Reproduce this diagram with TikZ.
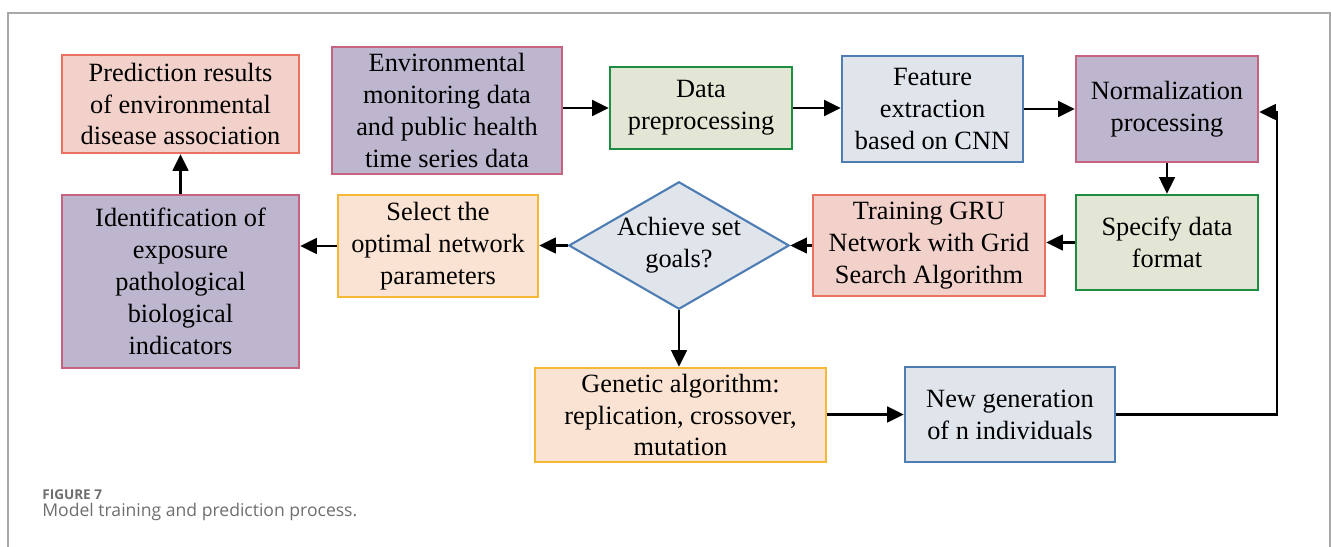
\documentclass[tikz,border=0pt]{standalone}
\usepackage{fontspec}
\setmainfont{Liberation Serif}
\newfontfamily\captionfont{Open Sans}
\usetikzlibrary{shapes.geometric,arrows.meta}

\definecolor{redfill}{HTML}{F2D1CB}
\definecolor{redline}{HTML}{EB7260}
\definecolor{purplefill}{HTML}{BEB6CE}
\definecolor{purpleline}{HTML}{C6637F}
\definecolor{greenfill}{HTML}{E3E6D5}
\definecolor{greenline}{HTML}{1B8E42}
\definecolor{bluefill}{HTML}{E0E5EC}
\definecolor{blueline}{HTML}{4E7DB4}
\definecolor{yellowfill}{HTML}{FAE3D2}
\definecolor{yellowline}{HTML}{F6B935}
\definecolor{framegray}{HTML}{A8A8A8}
\definecolor{captiongray}{HTML}{6E6E6E}

\begin{document}
\begin{tikzpicture}[x=0.02cm,y=-0.02cm,
		box/.style={rectangle,draw,line width=1.4pt,align=center,inner sep=2pt,
			font=\fontsize{15}{18.2}\selectfont},
		redbox/.style={box,fill=redfill,draw=redline},
		purplebox/.style={box,fill=purplefill,draw=purpleline},
		greenbox/.style={box,fill=greenfill,draw=greenline},
		bluebox/.style={box,fill=bluefill,draw=blueline},
		yellowbox/.style={box,fill=yellowfill,draw=yellowline},
		arr/.style={-{Triangle[length=9.5pt,width=9pt]},line width=1.2pt}]
		\useasboundingbox (0,0) rectangle (1331,547);
		
		% Add outer frame
		\draw [framegray,line width=0.6pt] (8,547) -- (8,13) -- (1330,13) -- (1330,547);
		
		% Top row
		\node [redbox,minimum width=4.74cm,minimum height=1.96cm] (pred) at (180.5,104) {Prediction results\\of environmental\\disease association};
		\node [purplebox,minimum width=4.6cm,minimum height=2.54cm] (env) at (447,110.5) {Environmental\\monitoring data\\and public health\\time series data};
		\node [greenbox,minimum width=3.64cm,minimum height=1.64cm] (pre) at (701,108) {Data\\preprocessing};
		\node [bluebox,minimum width=3.62cm,minimum height=2.12cm] (feat) at (932.5,109) {Feature\\extraction\\based on CNN};
		\node [purplebox,minimum width=3.64cm,minimum height=2.12cm] (norm) at (1167,109) {Normalization\\processing};
		
		% Middle row
		\node [purplebox,minimum width=4.74cm,minimum height=3.46cm] (ident) at (180.5,281.5) {Identification of\\exposure\\pathological\\biological\\indicators};
		\node [yellowbox,minimum width=4.0cm,minimum height=2.04cm] (sel) at (438,246) {Select the\\optimal network\\parameters};
		\node [diamond,draw=blueline,fill=bluefill,line width=1.2pt,align=center,inner sep=0pt,aspect=1.73,
			minimum width=4.4cm,minimum height=2.54cm,font=\fontsize{15}{18.2}\selectfont] (goal) at (679,245.5) {Achieve set\\goals?};
		\node [redbox,minimum width=4.64cm,minimum height=2.02cm] (gru) at (929,245.5) {Training GRU\\Network with Grid\\Search Algorithm};
		\node [greenbox,minimum width=3.64cm,minimum height=1.9cm] (spec) at (1167,242.5) {Specify data\\format};
		
		% Bottom row
		\node [yellowbox,minimum width=5.82cm,minimum height=1.88cm] (ga) at (680.5,415) {Genetic algorithm:\\replication, crossover,\\mutation};
		\node [bluebox,minimum width=4.2cm,minimum height=1.9cm] (newgen) at (1010,414.5) {New generation\\of n individuals};
		
		% Add arrows between boxes
		\draw [arr] (ident) -- (pred);
		\draw [arr] (env.east|-pre.west) -- (pre.west);
		\draw [arr] (pre.east) -- (pre.east-|feat.west);
		\draw [arr] (feat.east) -- (norm.west);
		\draw [arr] (norm) -- (spec);
		\draw [arr] (spec.west) -- (spec.west-|gru.east);
		\draw [arr] (gru.west) -- (goal.east);
		\draw [arr] (goal.west) -- (goal.west-|sel.east);
		\draw [arr] (sel.west) -- (sel.west-|ident.east);
		\draw [arr] (goal.south) -- (goal.south|-ga.north);
		\draw [arr] (ga.east|-newgen.west) -- (newgen.west);
		
		% Add feedback loop
		\coordinate (back) at (1277,112);
		\draw [arr] (newgen.east) -| (back) -- (back-|norm.east);
		
		% Caption
		\node [anchor=base west,inner sep=0pt,text=captiongray,font=\captionfont\bfseries\fontsize{7.7}{9.2}\selectfont] (fig) at (42,499) {FIGURE 7};
		\node [anchor=base west,inner sep=0pt,text=captiongray,font=\captionfont\fontsize{10}{12}\selectfont] (cap) at (42,516) {Model training and prediction process.};
		
	\end{tikzpicture}
\end{document}
